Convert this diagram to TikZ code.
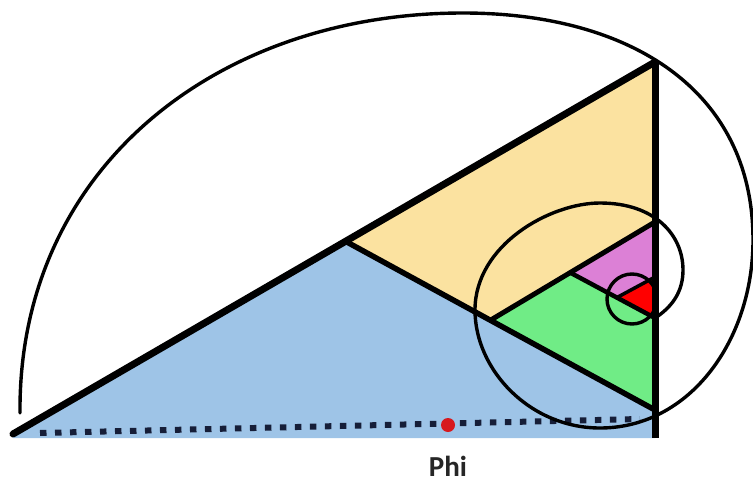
\documentclass[tikz,border=0pt]{standalone}
\usepackage{fontspec}
\usetikzlibrary{calc}
\setmainfont{Carlito}
\definecolor{bluef}{RGB}{158,196,231}
\definecolor{yellowf}{RGB}{251,226,160}
\definecolor{greenf}{RGB}{112,236,134}
\definecolor{magf}{RGB}{220,128,214}
\definecolor{redf}{RGB}{255,0,0}
\definecolor{dotc}{RGB}{22,30,56}
\definecolor{dotred}{RGB}{215,25,30}
\begin{document}
\begin{tikzpicture}[x=1pt,y=-1pt,
  edge/.style={line width=#1, line cap=round, line join=round},
  curve/.style={line width=3.4pt, line cap=round, line join=round}]
\useasboundingbox (0,0) rectangle (753,482);
% vertices
\coordinate (A) at (13,434);
\coordinate (B) at (655,62);
\coordinate (C) at (655,410);
\coordinate (Cb) at (655,438);
\coordinate (Ab) at (13,438);
\coordinate (D) at ($(A)!0.518!(B)$);
\coordinate (E) at ($(D)!0.468!(C)$);
\coordinate (F) at (655,222);
\coordinate (G) at ($(E)!0.485!(F)$);
\coordinate (H) at (655,318);
\coordinate (I) at ($(G)!0.55!(H)$);
\coordinate (J) at (655,277);
% fills
\fill[bluef] (A) -- (D) -- (C) -- (Cb) -- (Ab) -- cycle;
\fill[yellowf] (D) -- (B) -- (F) -- (E) -- cycle;
\fill[greenf] (E) -- (G) -- (I) -- (H) -- (C) -- cycle;
\fill[magf] (G) -- (F) -- (J) -- (I) -- cycle;
\fill[redf] (I) -- (J) -- (H) -- cycle;
% dotted base
\coordinate (P0) at (40,433);
\coordinate (P1) at (640,419);
\draw[dotc, line width=6pt, dash pattern=on 6.5pt off 8.5pt] (P0) -- (P1);
% lines
\draw[edge=7pt] (A) -- (B);
\draw[line width=7pt] (B) -- (Cb);
\draw[edge=5.5pt] (D) -- (C);
\draw[edge=5pt] (E) -- (F);
\draw[edge=4.5pt] (G) -- (H);
\draw[edge=3.5pt] (I) -- (J);
% spiral
\coordinate (S0) at (20,413);
\coordinate (S1) at (463,13);
\coordinate (S2) at (753,240);
\coordinate (S3) at (600,428);
\coordinate (S4) at (475,310);
\coordinate (S5) at (600,203);
\coordinate (S6) at (683,270);
\coordinate (S7) at (658,316);
\draw[curve] (S0) .. controls (18,170) and (215,13) .. (S1)
  .. controls (630,13) and (753,90) .. (S2)
  .. controls (753,340) and (690,428) .. (S3)
  .. controls (530,428) and (475,370) .. (S4)
  .. controls (475,245) and (550,203) .. (S5)
  .. controls (655,203) and (683,235) .. (S6)
  .. controls (683,292) and (672,306) .. (S7);
\node[circle, draw, line width=3.4pt, minimum size=50pt, inner sep=0pt] (sc) at (632,299) {};
% phi point
\node[circle, fill=dotred, inner sep=0pt, minimum size=14pt] (phipt) at (448,425) {};
\node[font=\bfseries\fontsize{29}{31}\selectfont, text=black!85] (phi) at (448,466) {Phi};
\end{tikzpicture}
\end{document}
